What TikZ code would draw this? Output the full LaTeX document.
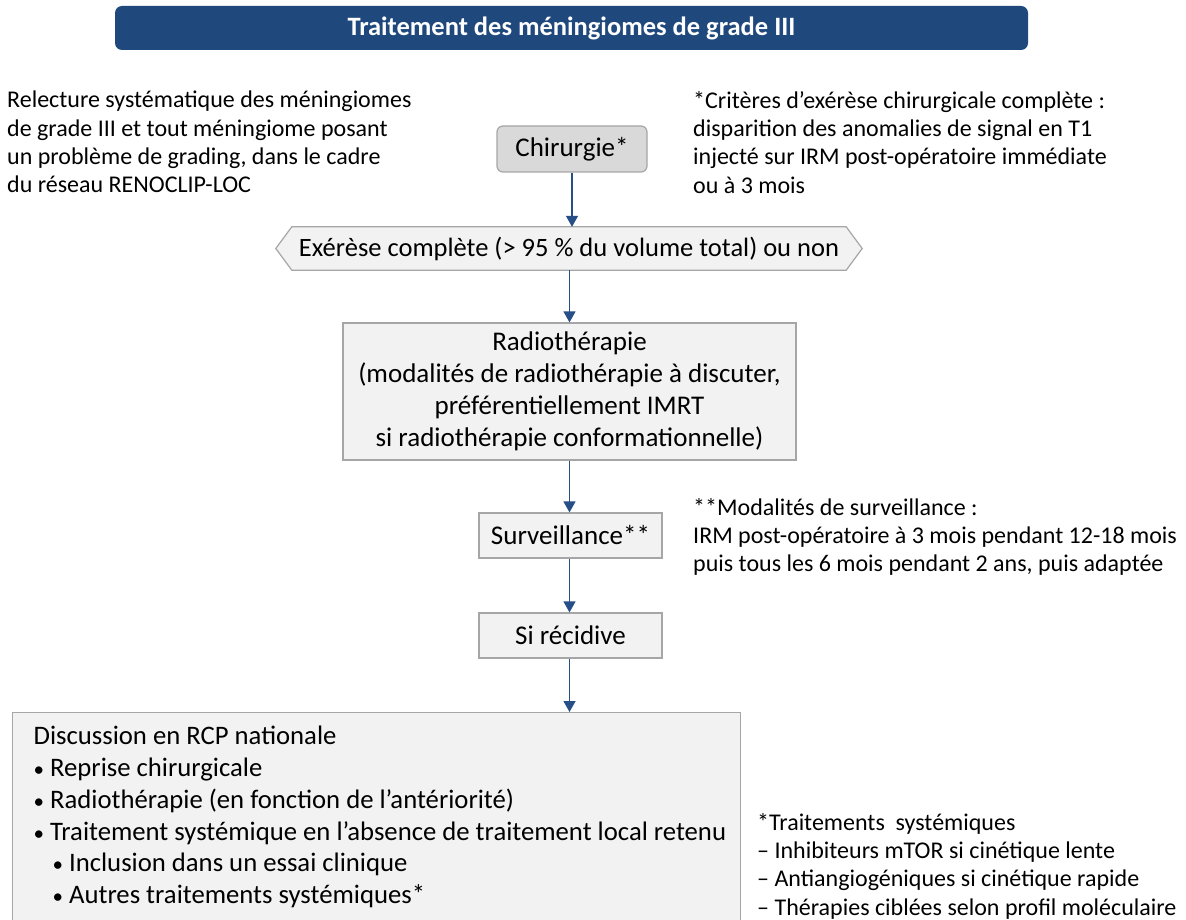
\documentclass[tikz,border=0pt]{standalone}
\usepackage{fontspec}
\setmainfont{Carlito}
\usetikzlibrary{arrows.meta,backgrounds}
\definecolor{titleblue}{RGB}{31,73,125}
\definecolor{arrowblue}{RGB}{38,78,135}
\definecolor{boxgray}{RGB}{166,166,166}
\definecolor{lightfill}{RGB}{242,242,242}
\definecolor{midfill}{RGB}{217,217,217}
\newcommand{\bul}{{\fontsize{21}{21}\selectfont •}}
\tikzset{
  x=1pt, y=-1pt,
  boxtext/.style={font=\fontsize{27}{32}\selectfont},
  notetext/.style={font=\fontsize{24}{28.3}\selectfont, align=left, inner sep=0pt},
  flowbox/.style={draw=boxgray, line width=1.2pt, fill=lightfill, boxtext, align=center, inner sep=0pt},
  flowarrow/.style={draw=arrowblue, line width=1.3pt, -{Triangle[width=12pt,length=11pt]}},
}
\begin{document}
\begin{tikzpicture}
\useasboundingbox (0,0) rectangle (1186,920);

% title
\node[fill=titleblue, rounded corners=7pt, minimum width=913pt, minimum height=44pt, inner sep=0pt,
      text=white, font=\fontsize{26.5}{30}\selectfont\bfseries] (title) at (571.5,28) {Traitement des méningiomes de grade III};

% side notes
\node[notetext, anchor=north west] (relecture) at (7,91) {Relecture systématique des méningiomes\\de grade III et tout méningiome posant\\un problème de grading, dans le cadre\\du réseau RENOCLIP-LOC};
\node[notetext, anchor=north west] (criteres) at (693,91) {*Critères d’exérèse chirurgicale complète :\\disparition des anomalies de signal en T1\\injecté sur IRM post-opératoire immédiate\\ou à 3 mois};
\node[notetext, anchor=north west] (modalites) at (693,498) {**Modalités de surveillance :\\IRM post-opératoire à 3 mois pendant 12-18 mois\\puis tous les 6 mois pendant 2 ans, puis adaptée};
\node[notetext, anchor=north west] (systemiques) at (757,813) {*Traitements~ systémiques\\– Inhibiteurs mTOR si cinétique lente\\– Antiangiogéniques si cinétique rapide\\– Thérapies ciblées selon profil moléculaire};

% flow
\node[flowbox, fill=midfill, rounded corners=6pt, minimum width=150pt, minimum height=46pt] (chir) at (572,149) {Chirurgie*};

\node[boxtext, minimum width=586pt, minimum height=43pt, inner sep=0pt, font=\fontsize{26.5}{32}\selectfont] (exer) at (569,248.5) {Exérèse complète (> 95 \% du volume total) ou non};
\begin{scope}[on background layer]
\fill[white] (0,0) rectangle (1186,920);
\draw[draw=boxgray, line width=1.2pt, fill=lightfill]
  (exer.west) -- ([xshift=16pt]exer.north west) -- ([xshift=-16pt]exer.north east) -- (exer.east)
  -- ([xshift=-16pt]exer.south east) -- ([xshift=16pt]exer.south west) -- cycle;
\end{scope}

\node[flowbox, minimum width=453pt, minimum height=137pt] (radio) at (569.5,391.5) {Radiothérapie\\(modalités de radiothérapie à discuter,\\préférentiellement IMRT\\si radiothérapie conformationnelle)};

\node[flowbox, minimum width=183pt, minimum height=45pt] (surv) at (570.5,535.5) {Surveillance**};
\node[flowbox, minimum width=183pt, minimum height=45pt] (recid) at (570.5,635.5) {Si récidive};

\node[flowbox, anchor=north west, minimum width=728pt, minimum height=209pt, text width=728pt, align=flush left,
      font=\fontsize{26.7}{31.8}\selectfont] (rcp) at (12,712)
  {\hspace*{21pt}Discussion en RCP nationale\\
   \hspace*{21pt}\bul\ Reprise chirurgicale\\
   \hspace*{21pt}\bul\ Radiothérapie (en fonction de l’antériorité)\\
   \hspace*{21pt}\bul\ Traitement systémique en l’absence de traitement local retenu\\
   \hspace*{40pt}\bul\ Inclusion dans un essai clinique\\
   \hspace*{40pt}\bul\ Autres traitements systémiques*};

\draw[flowarrow] (chir.south) -- (chir.south |- exer.north);
\draw[flowarrow] (exer.south -| radio.north) -- (radio.north);
\draw[flowarrow] (radio.south) -- (radio.south |- surv.north);
\draw[flowarrow] (surv.south -| radio.south) -- (radio.south |- recid.north);
\draw[flowarrow] (recid.south -| radio.south) -- (radio.south |- rcp.north);
\end{tikzpicture}
\end{document}
